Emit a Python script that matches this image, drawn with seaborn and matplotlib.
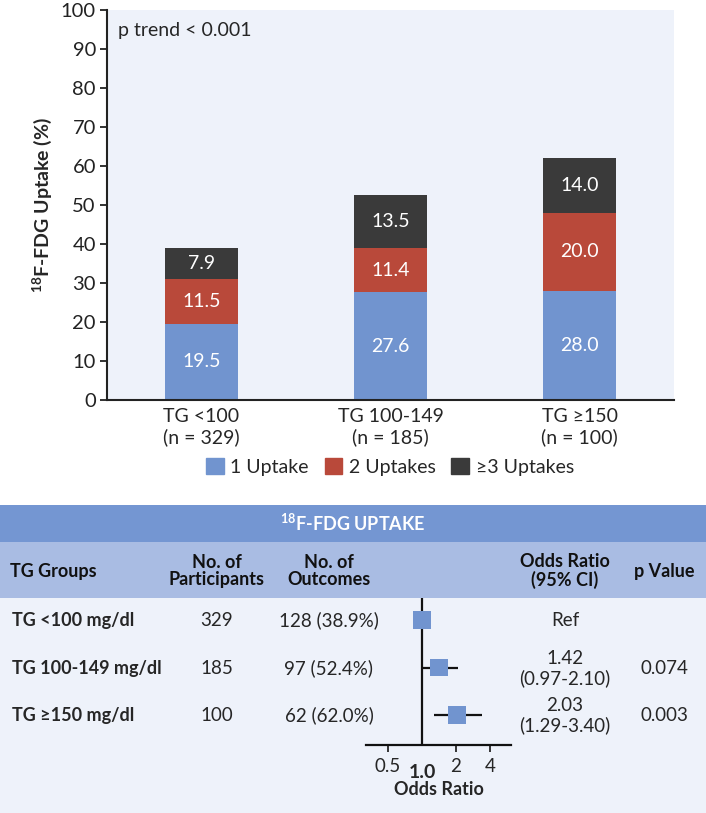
import numpy as np
import pandas as pd
import matplotlib.pyplot as plt
import seaborn as sns
from matplotlib.patches import Patch, Rectangle

# bar chart data
groups = ['TG <100\n(n = 329)', 'TG 100-149\n(n = 185)', 'TG \u2265150\n(n = 100)']
one_uptake = [19.5, 27.6, 28.0]
two_uptakes = [11.5, 11.4, 20.0]
three_uptakes = [7.9, 13.5, 14.0]
series_names = ['1 Uptake', '2 Uptakes', '\u22653 Uptakes']
colors = ['#7194cf', '#b9493a', '#3a3a3a']

# table / forest data
tg_rows = ['TG <100 mg/dl', 'TG 100-149 mg/dl', 'TG \u2265150 mg/dl']
participants = [329, 185, 100]
outcomes = ['128 (38.9%)', '97 (52.4%)', '62 (62.0%)']
odds_ratio = [1.00, 1.42, 2.03]
ci_low = [1.00, 0.97, 1.29]
ci_high = [1.00, 2.10, 3.40]
or_text = ['Ref', '1.42\n(0.97-2.10)', '2.03\n(1.29-3.40)']
p_values = ['', '0.074', '0.003']

sns.set_theme(style='white')
plt.rcParams['font.family'] = ['Lato', 'DejaVu Sans']
plt.rcParams['mathtext.default'] = 'regular'

W, H = 706, 813
fig = plt.figure(figsize=(W / 100, H / 100), dpi=100)

# background bands for the table (pixel coordinates)
bg = fig.add_axes([0, 0, 1, 1], zorder=0)
bg.set_xlim(0, W)
bg.set_ylim(H, 0)
bg.axis('off')
bg.add_patch(Rectangle((0, 505), W, 37, color='#7496d2', lw=0))
bg.add_patch(Rectangle((0, 542), W, 56, color='#a9bce3', lw=0))
bg.add_patch(Rectangle((0, 598), W, H - 598, color='#eef2fa', lw=0))

# ---- stacked bars ----
ax = fig.add_axes([107 / W, 1 - 400 / H, (674 - 107) / W, 390 / H], zorder=2)
ax.set_facecolor('#eef2fa')
df = pd.DataFrame({'group': groups, 'one': one_uptake, 'two': two_uptakes, 'three': three_uptakes})
bottom = np.zeros(len(groups))
for col, name, c in zip(['one', 'two', 'three'], series_names, colors):
    sns.barplot(data=df, x='group', y=col, color=c, bottom=bottom, width=0.39,
                saturation=1, ax=ax, edgecolor='none')
    for i, v in enumerate(df[col]):
        ax.text(i, bottom[i] + v / 2, f'{v:.1f}', color='white', ha='center',
                va='center', fontsize=14)
    bottom = bottom + df[col].values

ax.set_xlim(-0.5, 2.5)
ax.set_ylim(0, 100)
ax.set_yticks(range(0, 101, 10))
ax.set_xlabel('')
ax.set_ylabel(r'$^{18}$F-FDG Uptake (%)', fontsize=14, fontweight='bold', labelpad=5)
ax.tick_params(axis='y', left=True, length=5, width=1.3, labelsize=14.5, pad=3, colors='#222222')
ax.tick_params(axis='x', bottom=False, labelsize=14, pad=0)
for lbl in ax.get_xticklabels():
    lbl.set_linespacing(1.2)
for s in ['top', 'right']:
    ax.spines[s].set_visible(False)
for s in ['left', 'bottom']:
    ax.spines[s].set_color('#222222')
    ax.spines[s].set_linewidth(1.5)
ax.text(11 / 567, 0.948, 'p trend < 0.001', transform=ax.transAxes, fontsize=14, va='center')

handles = [Patch(color=c) for c in colors]
fig.legend(handles, series_names, loc='center', bbox_to_anchor=(390 / W, 1 - 467 / H),
           ncol=3, frameon=False, handlelength=0.9, handleheight=0.9,
           handletextpad=0.35, columnspacing=0.8, fontsize=14)

# ---- table text ----
bg.text(W / 2, 523, r'$^{18}$F-FDG UPTAKE', color='white', fontsize=13,
        fontweight='bold', ha='center', va='center')
hdr = dict(fontsize=13, fontweight='bold', va='center', color='#111111', linespacing=1.05)
bg.text(10, 571, 'TG Groups', ha='left', **hdr)
bg.text(217, 571, 'No. of\nParticipants', ha='center', **hdr)
bg.text(329, 571, 'No. of\nOutcomes', ha='center', **hdr)
bg.text(565, 571, 'Odds Ratio\n(95% CI)', ha='center', **hdr)
bg.text(664, 571, 'p Value', ha='center', **hdr)

row_y = [620, 668, 715]
for i in range(len(tg_rows)):
    y = row_y[i]
    bg.text(12, y, tg_rows[i], fontsize=13, fontweight='bold', va='center')
    bg.text(217, y, str(participants[i]), fontsize=13.5, ha='center', va='center')
    bg.text(329, y, outcomes[i], fontsize=13.5, ha='center', va='center')
    bg.text(565, y + (1 if i else 0), or_text[i], fontsize=13.5, ha='center', va='center',
            linespacing=1.15)
    bg.text(664, y, p_values[i], fontsize=13.5, ha='center', va='center')

# ---- forest plot ----
fx = fig.add_axes([366 / W, 1 - 745 / H, (511 - 366) / W, (745 - 598) / H], zorder=3)
fx.patch.set_alpha(0)
fx.set_xscale('log', base=2)
fx.set_xlim(2 ** (-56 / 34), 2 ** (89 / 34))
fx.set_ylim(2.63, -0.463)
forest = pd.DataFrame({'row': range(3), 'or': odds_ratio, 'lo': ci_low, 'hi': ci_high})
fx.hlines(forest['row'], forest['lo'], forest['hi'], color='#111111', lw=1.6, zorder=2)
fx.axvline(1.0, color='#111111', lw=1.6, zorder=1)
sns.scatterplot(data=forest, x='or', y='row', marker='s', s=160, color='#7194cf',
                edgecolor='none', ax=fx, zorder=3, legend=False)
fx.set_xticks([0.5, 2, 4])
fx.set_xticklabels(['0.5', '2', '4'], fontsize=13.5)
fx.xaxis.set_minor_locator(plt.NullLocator())
fx.set_yticks([])
fx.set_xlabel('Odds Ratio', fontsize=13, fontweight='bold', labelpad=5)
fx.set_ylabel('')
fx.tick_params(axis='x', bottom=True, length=5, width=1.3, pad=4)
fx.text(1.0, -0.19, '1.0', transform=fx.get_xaxis_transform(), ha='center', va='center',
        fontsize=14, fontweight='bold')
for s in ['top', 'right', 'left']:
    fx.spines[s].set_visible(False)
fx.spines['bottom'].set_color('#111111')
fx.spines['bottom'].set_linewidth(1.6)

fig.savefig('out.png', dpi=100)
